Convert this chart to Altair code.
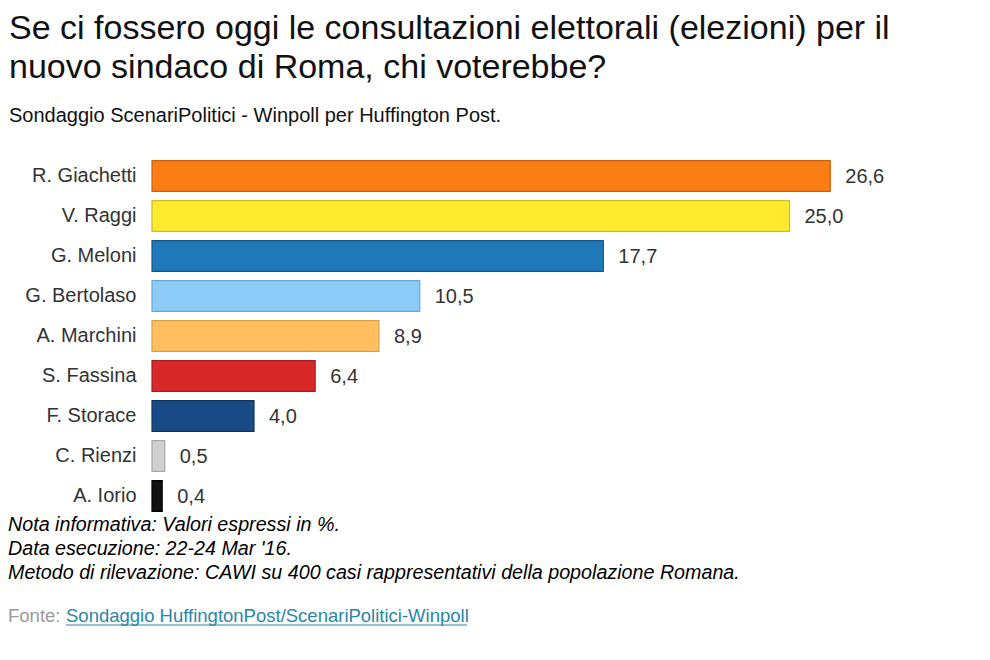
import altair as alt
import pandas as pd

candidates = ["R. Giachetti", "V. Raggi", "G. Meloni", "G. Bertolaso", "A. Marchini",
              "S. Fassina", "F. Storace", "C. Rienzi", "A. Iorio"]
values = [26.6, 25.0, 17.7, 10.5, 8.9, 6.4, 4.0, 0.5, 0.4]
fills = ["#FA7D13", "#FFEA2E", "#1F78B8", "#8CCBF7", "#FFBF5E",
         "#D8282A", "#184B85", "#D0D0D0", "#111111"]
strokes = ["#C8620E", "#CDBB22", "#175A8A", "#6AAAD6", "#D9A04A",
           "#A81E20", "#0F3560", "#A8A8A8", "#000000"]

title_lines = ["Se ci fossero oggi le consultazioni elettorali (elezioni) per il",
               "nuovo sindaco di Roma, chi voterebbe?"]
subtitle = "Sondaggio ScenariPolitici - Winpoll per Huffington Post."
notes = ["Nota informativa: Valori espressi in %.",
         "Data esecuzione: 22-24 Mar '16.",
         "Metodo di rilevazione: CAWI su 400 casi rappresentativi della popolazione Romana."]
source_prefix = "Fonte: "
source_link = "Sondaggio HuffingtonPost/ScenariPolitici-Winpoll"

FONT = "Liberation Sans"

df = pd.DataFrame({
    "cand": candidates,
    "val": values,
    "fill": fills,
    "stroke": strokes,
    "label": [f"{v:.1f}".replace(".", ",") for v in values],
})

W, H = 765, 360
PL, PT = 144, 148

y_enc = alt.Y("cand:N", sort=candidates, title=None,
              scale=alt.Scale(paddingInner=0.23, paddingOuter=0.115),
              axis=alt.Axis(ticks=False, domain=False, labelPadding=16,
                            labelFontSize=20, labelColor="#333333", labelFont=FONT))
x_enc = alt.X("val:Q", scale=alt.Scale(domain=[0, 30]), axis=None)

base = alt.Chart(df)
bars = base.mark_bar(strokeWidth=1.2).encode(
    x=x_enc, y=y_enc,
    fill=alt.Fill("fill:N", scale=None),
    stroke=alt.Stroke("stroke:N", scale=None),
)
labels = base.mark_text(align="left", baseline="middle", dx=15, dy=1, fontSize=20,
                        font=FONT, color="#333333").encode(
    x=x_enc, y=alt.Y("cand:N", sort=candidates), text="label:N")


def txt(s, x, y, size, color="#000000", style="normal"):
    return alt.Chart(pd.DataFrame({"t": [s]})).mark_text(
        align="left", baseline="alphabetic", fontSize=size, font=FONT, color=color,
        fontStyle=style).encode(text="t:N", x=alt.value(x - 8 - PL), y=alt.value(y - 8 - PT))


layers = [bars, labels]
layers.append(txt(title_lines[0], 9, 39, 34, "#111111"))
layers.append(txt(title_lines[1], 9, 78, 34, "#111111"))
layers.append(txt(subtitle, 9, 122, 20, "#111111"))
note_baselines = [531, 555, 579]
for n, b in zip(notes, note_baselines):
    layers.append(txt(n, 8, b, 19.7, "#000000", "italic"))
layers.append(txt(source_prefix, 8, 622, 18.5, "#9A9A9A"))
layers.append(txt(source_link, 66, 622, 18.5, "#2B86A8"))
layers.append(alt.Chart(pd.DataFrame({"a": [0]})).mark_rule(color="#2B86A8", strokeWidth=1).encode(
    x=alt.value(66 - 8 - PL), x2=alt.value(467 - 8 - PL), y=alt.value(625 - 8 - PT)))

chart = alt.layer(*layers).properties(
    width=W, height=H,
    background="#FFFFFF",
    autosize=alt.AutoSizeParams(type="none"),
    padding={"left": PL, "top": PT, "right": 50, "bottom": 122},
).configure_view(stroke=None)

chart.save("out.html", embed_options={"renderer": "svg", "actions": False})
